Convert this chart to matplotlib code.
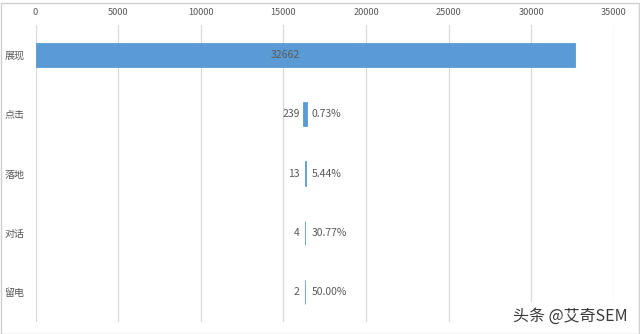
import matplotlib
matplotlib.use("Agg")
import matplotlib.pyplot as plt
from matplotlib.patches import Rectangle

plt.rcParams['font.family'] = ['Noto Sans CJK SC', 'DejaVu Sans']

# Funnel stages and counts
stages = ["展现", "点击", "落地", "对话", "留电"]
counts = [32662, 239, 13, 4, 2]
x_ticks = [0, 5000, 10000, 15000, 20000, 25000, 30000, 35000]

bar_color = "#5B9BD5"
text_color = "#595959"
grid_color = "#D9D9D9"

fig = plt.figure(figsize=(6.4, 3.34), dpi=100)
ax = fig.add_axes([35.5 / 640, 1 - 322 / 334, 578.5 / 640, 297 / 334])

top = max(counts)
offsets = [(top - c) / 2 for c in counts]
ypos = list(range(len(stages)))

ax.barh(ypos, counts, left=offsets, height=0.41, color=bar_color,
        edgecolor=bar_color, linewidth=0.6, zorder=3)

# value labels to the left of each bar's centre
for y, c in zip(ypos, counts):
    ax.annotate(str(c), xy=(top / 2, y), xytext=(-4, 0), textcoords="offset points",
                ha="right", va="center", fontsize=7.5, color=text_color, zorder=4)

# stage-to-stage conversion rates
for i in range(1, len(counts)):
    rate = counts[i] / counts[i - 1] * 100
    ax.annotate(f"{rate:.2f}%", xy=(top / 2, ypos[i]), xytext=(4.5, 0),
                textcoords="offset points", ha="left", va="center",
                fontsize=7.5, color=text_color, zorder=4)

ax.set_xlim(0, 35000)
ax.set_ylim(len(stages) - 0.5, -0.5)
ax.set_xticks(x_ticks)
ax.set_xticklabels([str(t) for t in x_ticks])
ax.xaxis.tick_top()
ax.tick_params(axis="x", length=0, pad=6, labelsize=6.6, labelcolor=text_color)
ax.set_yticks(ypos)
ax.set_yticklabels(stages)
ax.tick_params(axis="y", length=0, pad=8, labelsize=7.2, labelcolor=text_color)
ax.grid(axis="x", color=grid_color, linewidth=0.9, zorder=0)
for s in ax.spines.values():
    s.set_visible(False)

# outer chart frame
fig.patches.append(Rectangle((0.5 / 640, 0.5 / 334), 638 / 640, 331 / 334,
                             transform=fig.transFigure, fill=False,
                             edgecolor="#D0D0D0", linewidth=1.0))

fig.text(628 / 640, 1 - 316 / 334, "头条 @艾奇SEM", ha="right", va="center",
         fontsize=11.5, color="#3A3A3A",
         bbox=dict(boxstyle="square,pad=0.35", facecolor="white", edgecolor="none"))

fig.savefig("out.png", dpi=100)
